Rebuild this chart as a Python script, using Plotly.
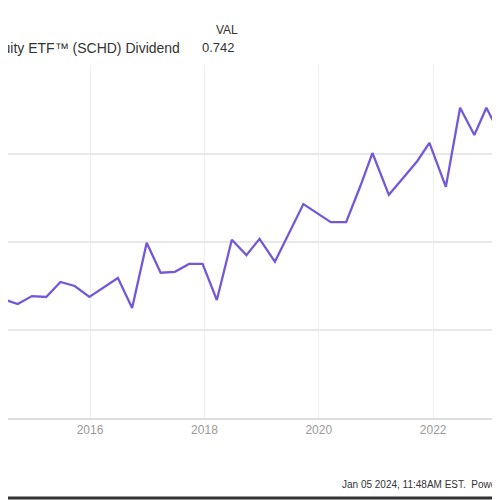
import plotly.graph_objects as go

# dividendos trimestrais (SCHD)
datas = ['2014-06-27', '2014-09-26', '2014-12-26', '2015-03-27', '2015-06-26',
         '2015-09-25', '2015-12-28', '2016-03-28', '2016-06-27', '2016-09-26',
         '2016-12-28', '2017-03-27', '2017-06-26', '2017-09-25', '2017-12-20',
         '2018-03-21', '2018-06-25', '2018-09-26', '2018-12-19', '2019-03-27',
         '2019-06-26', '2019-09-25', '2019-12-19', '2020-03-18', '2020-06-24',
         '2020-09-23', '2020-12-09', '2021-03-24', '2021-06-23', '2021-09-22',
         '2021-12-08', '2022-03-23', '2022-06-22', '2022-09-21', '2022-12-07',
         '2023-03-22']
dividendos = [0.270, 0.259, 0.277, 0.275, 0.309,
              0.300, 0.275, 0.296, 0.318, 0.250,
              0.398, 0.330, 0.332, 0.350, 0.350,
              0.268, 0.405, 0.370, 0.407, 0.355,
              0.420, 0.486, 0.466, 0.445, 0.445,
              0.527, 0.602, 0.507, 0.545, 0.584,
              0.625, 0.525, 0.705, 0.643, 0.705,
              0.632]
anos = ['2016-01-01', '2018-01-01', '2020-01-01', '2022-01-01']
anos_txt = ['2016', '2018', '2020', '2022']
nome = 'Schwab US Dividend Equity ETF\u2122 (SCHD) Dividend'
ultimo_val = '0.742'

fonte = 'Liberation Sans, Arial, sans-serif'

# área do gráfico em pixels da figura (a página tem 8px de margem)
W, H = 487, 353
TOPO, BASE = 57, 410

def px(fx):
    return fx / W

def py(fy):
    return (BASE - fy) / H

fig = go.Figure()
fig.add_trace(go.Scatter(x=datas, y=dividendos, mode='lines',
                         line=dict(color='#7458d8', width=2.3)))

fig.update_xaxes(range=['2014-07-26', '2023-01-31'],
                 tickvals=anos, ticktext=anos_txt,
                 showgrid=True, gridcolor='#eeeeee', gridwidth=1,
                 showline=True, linecolor='#dddddd', linewidth=1.5,
                 ticks='', tickfont=dict(family=fonte, size=12, color='#9a9a9a'),
                 zeroline=False)
fig.update_yaxes(range=[0, 0.802], dtick=0.2, showticklabels=False,
                 showgrid=True, gridcolor='#e8e8e8', gridwidth=1.5,
                 zeroline=False)

# cabeçalho da legenda e rodapé
fig.add_annotation(xref='paper', yref='paper', x=px(174), y=py(40),
                   xanchor='right', yanchor='middle', showarrow=False,
                   text=nome, font=dict(family=fonte, size=14, color='#333333'))
fig.add_annotation(xref='paper', yref='paper', x=px(219), y=py(22),
                   xanchor='center', yanchor='middle', showarrow=False,
                   text='VAL', font=dict(family=fonte, size=12, color='#333333'))
fig.add_annotation(xref='paper', yref='paper', x=px(229), y=py(40),
                   xanchor='right', yanchor='middle', showarrow=False,
                   text=ultimo_val, font=dict(family=fonte, size=13, color='#333333'))
fig.add_annotation(xref='paper', yref='paper', x=px(332), y=py(477),
                   xanchor='left', yanchor='middle', showarrow=False,
                   text='Jan 05 2024, 11:48AM EST.  Powered by YCHARTS',
                   font=dict(family=fonte, size=10, color='#333333'))

# bordas da imagem
fig.add_shape(type='rect', xref='paper', yref='paper',
              x0=px(484), x1=px(487), y0=py(492), y1=py(-8),
              line=dict(width=0), fillcolor='#333333', layer='above')
fig.add_shape(type='line', xref='paper', yref='paper',
              x0=0, x1=px(490), y0=py(490), y1=py(490),
              line=dict(color='#333333', width=3))

fig.update_layout(width=500, height=500, showlegend=False,
                  margin=dict(l=0, r=500 - W, t=TOPO, b=500 - BASE),
                  plot_bgcolor='white', paper_bgcolor='white')

fig.write_html('out.html')
